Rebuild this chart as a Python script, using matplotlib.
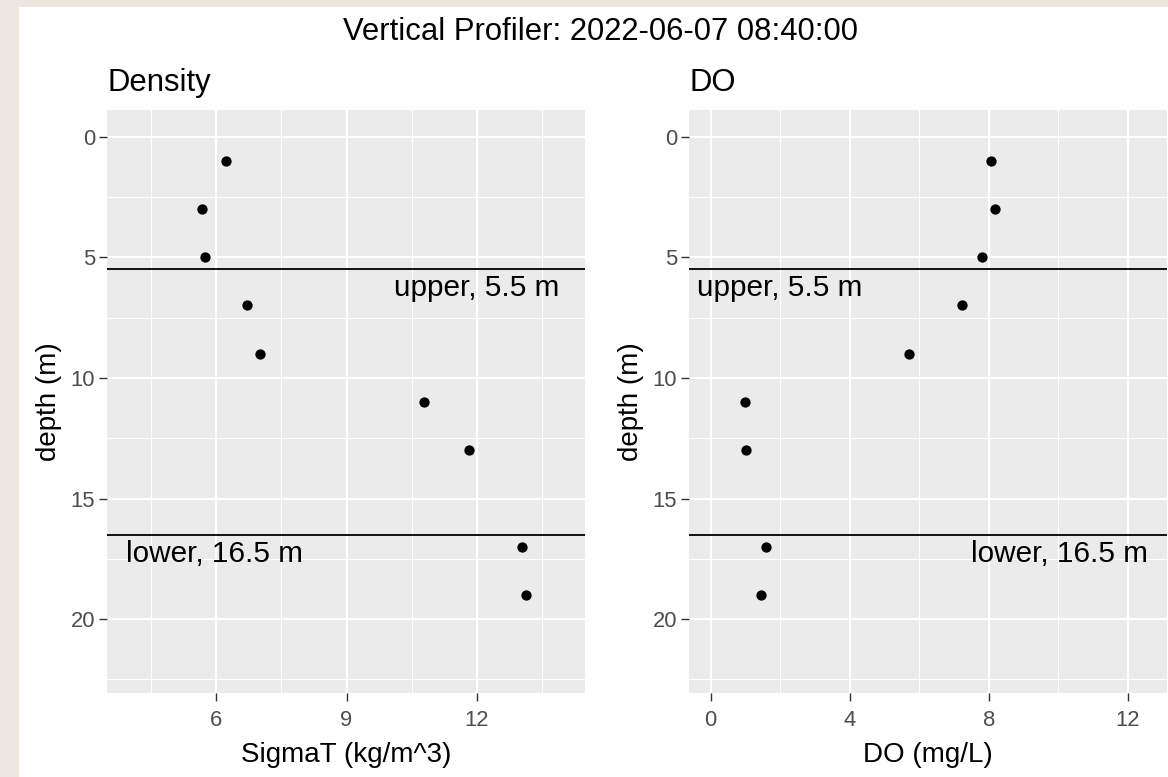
import matplotlib
matplotlib.use("Agg")
import matplotlib.pyplot as plt
from matplotlib.patches import Rectangle

plt.rcParams['font.family'] = ['Liberation Sans', 'DejaVu Sans']

# ---- data ----
depth = [1, 3, 5, 7, 9, 11, 13, 17, 19]
sigmaT = [6.23, 5.68, 5.74, 6.72, 7.02, 10.77, 11.82, 13.03, 13.13]
do_mgL = [8.07, 8.19, 7.81, 7.23, 5.69, 0.99, 1.01, 1.60, 1.46]
upper_depth = 5.5
lower_depth = 16.5
title = "Vertical Profiler: 2022-06-07 08:40:00"
left_xticks = [6, 9, 12]
left_minor = [4.5, 7.5, 10.5, 13.5]
right_xticks = [0, 4, 8, 12]
right_minor = [2, 6, 10]
yticks = [0, 5, 10, 15, 20]
yminor = [2.5, 7.5, 12.5, 17.5, 22.5]

W, H = 1168, 777
fig = plt.figure(figsize=(W / 100, H / 100), dpi=100)
fig.patch.set_facecolor('white')
beige = '#ECE8E0'
fig.patches.append(Rectangle((0, 1 - 7 / H), 1, 7 / H, transform=fig.transFigure,
                             facecolor=beige, edgecolor='none', zorder=-1))
fig.patches.append(Rectangle((0, 0), 19 / W, 1, transform=fig.transFigure,
                             facecolor=beige, edgecolor='none', zorder=-1))


def px_axes(x0, y0, x1, y1):
    return fig.add_axes([x0 / W, 1 - y1 / H, (x1 - x0) / W, (y1 - y0) / H])


def style(ax, xt, xm, xlim):
    ax.set_facecolor('#EBEBEB')
    for s in ax.spines.values():
        s.set_visible(False)
    ax.set_xlim(*xlim)
    ax.set_ylim(23.06, -1.1)
    ax.set_xticks(xt)
    ax.set_yticks(yticks)
    ax.set_xticks(xm, minor=True)
    ax.set_yticks(yminor, minor=True)
    ax.tick_params(which='major', length=5.5, width=1.0, color='#333333',
                   labelcolor='#4D4D4D', labelsize=15.8)
    ax.tick_params(axis='x', which='major', pad=7)
    ax.tick_params(axis='y', which='major', pad=3)
    ax.tick_params(which='minor', length=0)
    ax.grid(which='major', color='white', linewidth=1.5)
    ax.grid(which='minor', color='white', linewidth=0.75)
    ax.set_axisbelow(True)
    ax.set_ylabel('depth (m)', fontsize=20, labelpad=6)


ax1 = px_axes(107, 110, 585, 693)
style(ax1, left_xticks, left_minor, (3.497, 14.48))
ax1.scatter(sigmaT, depth, s=55, color='black', zorder=3, linewidths=0)
ax1.axhline(upper_depth, color='black', linewidth=1.3, zorder=2)
ax1.axhline(lower_depth, color='black', linewidth=1.3, zorder=2)
ax1.text(13.9, upper_depth + 0.2, f"upper, {upper_depth} m", ha='right', va='top', fontsize=21.4)
ax1.text(3.94, lower_depth + 0.2, f"lower, {lower_depth} m", ha='left', va='top', fontsize=21.4)
ax1.set_xlabel('SigmaT (kg/m^3)', fontsize=20, labelpad=8)
ax1.set_title('Density', loc='left', fontsize=22.3, pad=14)

ax2 = px_axes(689, 110, 1167, 693)
style(ax2, right_xticks, right_minor, (-0.62, 13.12))
ax2.scatter(do_mgL, depth, s=55, color='black', zorder=3, linewidths=0)
ax2.axhline(upper_depth, color='black', linewidth=1.3, zorder=2)
ax2.axhline(lower_depth, color='black', linewidth=1.3, zorder=2)
ax2.text(-0.4, upper_depth + 0.2, f"upper, {upper_depth} m", ha='left', va='top', fontsize=21.4)
ax2.text(12.56, lower_depth + 0.2, f"lower, {lower_depth} m", ha='right', va='top', fontsize=21.4)
ax2.set_xlabel('DO (mg/L)', fontsize=20, labelpad=8)
ax2.set_title('DO', loc='left', fontsize=22.3, pad=14)

fig.text(600 / W, 1 - 32 / H, title, ha='center', va='center', fontsize=22.3)

fig.savefig('out.png', dpi=100)
